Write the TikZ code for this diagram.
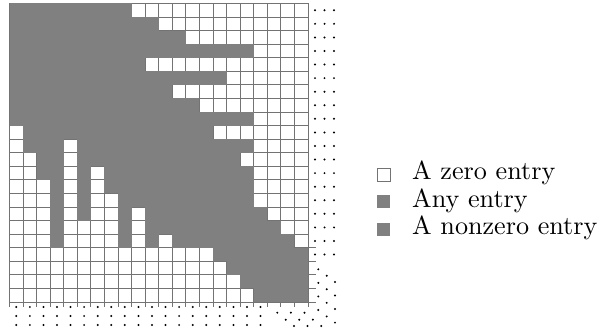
\documentclass[tikz,border=0pt]{standalone}
\definecolor{cellgray}{gray}{0.5}
\definecolor{linegray}{gray}{0.45}
\begin{document}
\begin{tikzpicture}[x=0.4pt,y=-0.4pt,
  gridline/.style={draw=linegray,line width=0.4pt},
  cellfill/.style={fill=cellgray},
  dotmark/.style={fill=black},
  legbox/.style={minimum size=5.2pt,inner sep=0pt,outer sep=0pt},
  legtext/.style={anchor=base west,inner sep=0pt,font=\fontsize{10.45pt}{12pt}\selectfont}]
\useasboundingbox (0,0) rectangle (599,331);
\fill[white] (0,0) rectangle (599,331);
% grid and filled cells
\begin{scope}[xshift=3.8pt,yshift=-1.4pt,x=5.428pt,y=-5.428pt]
  \foreach \i in {0,...,22} { \draw[gridline] (\i,0) -- (\i,22.35); }
  \foreach \i in {0,...,17} { \draw[gridline] (0,\i) -- (22,\i); }
  \foreach \i in {18,...,22} { \draw[gridline] (0,\i) -- (22.62,\i); }
  \foreach \r/\a/\b in {0/0/9, 1/0/11, 2/0/13, 3/0/18, 4/0/10, 5/0/16, 6/0/12, 7/0/14, 8/0/18,
      9/1/15, 10/1/4, 10/5/18, 11/2/4, 11/5/17, 12/2/4, 12/5/6, 12/7/18,
      13/3/4, 13/5/6, 13/7/18, 14/3/4, 14/5/6, 14/8/18,
      15/3/4, 15/5/6, 15/8/9, 15/10/19, 16/3/4, 16/8/9, 16/10/20,
      17/3/4, 17/8/9, 17/10/11, 17/12/21,
      18/15/22, 19/16/22, 20/17/22, 21/18/22}
    { \fill[cellfill] (\a,\r) rectangle (\b,{\r+1}); }
\end{scope}
% continuation dots: rows
\foreach \i in {0,...,18} {
  \foreach \x in {315,324.5,334} { \fill[dotmark] (\x,{10.285+13.57*\i}) circle (1.1); }
}
% continuation dots: columns
\foreach \j in {0,...,18} {
  \foreach \y in {307,316,325} { \fill[dotmark] ({16.285+13.57*\j},\y) circle (1.1); }
}
% diagonal dots at the right
\foreach \i in {19,...,22} {
  \foreach \dx/\dy in {0/0,8.4/6.4,16.7/12.6}
    { \fill[dotmark] ({318.3+\dx},{11.485+13.57*\i+\dy}) circle (1.1); }
}
% diagonal dots at the bottom
\foreach \j in {19,20,21} {
  \foreach \dx/\dy in {0/0,8.4/7,16.7/13.3}
    { \fill[dotmark] ({19.485+13.57*\j+\dx},{312.7+\dy}) circle (1.1); }
}
% legend
\node[legbox,fill=white,draw=linegray,line width=0.4pt] (kzero) at (383.7,174.7) {};
\node[legbox,fill=cellgray] (kany) at (383.7,202) {};
\node[legbox,fill=cellgray] (knon) at (383.7,229.3) {};
\node[legtext] (tzero) at (411.7,180) {A zero entry};
\node[legtext] (tany) at (411.7,207.3) {Any entry};
\node[legtext] (tnon) at (411.7,234.7) {A nonzero entry};
\end{tikzpicture}
\end{document}
